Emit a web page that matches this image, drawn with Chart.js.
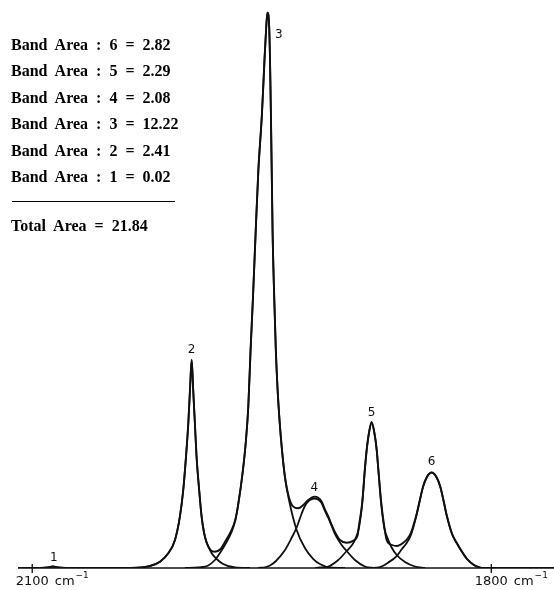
<!DOCTYPE html>
<html>
<head>
<meta charset="utf-8">
<title>Band fit</title>
<script src="https://cdn.jsdelivr.net/npm/chart.js@4.4.0/dist/chart.umd.min.js"></script>
<style>
    body { margin: 0; background: #fff; }
    #wrap { position: relative; width: 554px; height: 590px; }
    #bandChart { position: absolute; left: 0; top: 0; }
    .note {
        position: absolute;
        left: 11px;
        font: bold 16px "Liberation Serif", "Times New Roman", serif;
        line-height: 26.4px;
        word-spacing: 4px;
        color: #000;
        white-space: pre;
    }
    #areas { top: 32px; }
    #total { top: 213px; }
    #rule { position: absolute; left: 12px; top: 201px; width: 163px; height: 0; border-top: 1.6px solid #000; }
</style>
</head>
<body>
<div id="wrap">
    <canvas id="bandChart" width="554" height="590"></canvas>
    <div id="areas" class="note"></div>
    <div id="rule"></div>
    <div id="total" class="note"></div>
</div>
<script>
const bandNames = ["1", "2", "3", "4", "5", "6"];
const bandAreas = [0.02, 2.41, 12.22, 2.08, 2.29, 2.82];
const totalArea = 21.84;
const axisTicks = [2100, 1800];
const axisUnit = "cm";

// wavenumber (cm-1) / relative absorbance
const band1Wn = [2095.0, 2089.7, 2086.5, 2083.2, 2078.0];
const band1Abs = [0, 0.09, 0.27, 0.09, 0];

const band2Wn = [2036.1, 2028.5, 2023.1, 2016.5, 2011.1, 2006.7, 2003.5, 2001.3, 1999.5, 1998.0, 1996.9, 1995.8,
    1994.8, 1993.7, 1992.6, 1990.9, 1989.3, 1987.8, 1986.0, 1982.7, 1979.5, 1975.2, 1967.5, 1957.7];
const band2Abs = [0, 0.09, 0.36, 1.14, 2.65, 5.05, 9.24, 14.05, 20.05, 26.07, 32.07, 37.48,
    32.07, 26.07, 20.05, 14.05, 9.24, 6.49, 4.56, 2.65, 1.62, 0.72, 0.09, 0];

const band3Wn = [2000.2, 1991.7, 1988.4, 1985.0, 1980.6, 1978.4, 1974.1, 1969.7, 1967.2, 1965.4, 1962.5, 1960.3,
    1958.8, 1957.3, 1955.8, 1954.0, 1952.2, 1949.9, 1948.2, 1947.1, 1946.3, 1945.2, 1944.6, 1944.0, 1942.9,
    1941.8, 1940.8, 1939.7, 1938.4, 1936.8, 1934.8, 1932.2, 1927.2, 1921.8, 1916.3, 1912.0, 1905.4, 1895.6];
const band3Abs = [0, 0.09, 0.18, 0.45, 1.44, 2.25, 4.14, 6.49, 8.65, 11.35, 17.12, 23.06,
    29.01, 39.28, 48.29, 60.36, 71.71, 81.62, 91.53, 97.30, 100, 97.84, 91.53, 81.62, 60.36,
    48.29, 39.28, 32.43, 26.67, 21.26, 16.22, 12.25, 6.85, 3.60, 1.62, 0.72, 0.09, 0];

const band4Wn = [1952.5, 1947.3, 1944.6, 1940.7, 1934.8, 1930.5, 1927.2, 1923.9, 1921.8, 1919.6, 1917.8, 1915.7,
    1913.3, 1910.9, 1908.7, 1906.5, 1904.3, 1902.2, 1897.8, 1894.5, 1889.1, 1882.6, 1876.0];
const band4Abs = [0, 0.18, 0.45, 1.26, 3.24, 5.41, 7.30, 9.82, 11.17, 11.98, 12.34, 12.52,
    12.34, 11.71, 10.27, 9.01, 7.57, 6.13, 4.14, 3.06, 1.44, 0.27, 0];

const band5Wn = [1915.2, 1912.0, 1906.5, 1900.0, 1894.5, 1891.0, 1889.1, 1886.5, 1884.3, 1882.6, 1881.4, 1879.9,
    1878.2, 1876.4, 1874.9, 1873.8, 1872.0, 1869.9, 1867.3, 1865.3, 1861.8, 1856.4, 1849.9, 1843.3];
const band5Abs = [0, 0.09, 0.27, 1.44, 3.06, 4.14, 5.05, 7.21, 11.71, 17.66, 21.26, 24.32,
    26.13, 24.32, 21.26, 17.66, 11.71, 7.21, 5.05, 3.78, 2.34, 1.08, 0.27, 0];

const band6Wn = [1879.3, 1872.7, 1867.3, 1861.8, 1858.4, 1855.3, 1852.5, 1848.8, 1846.6, 1844.6, 1842.0, 1839.0,
    1835.9, 1833.3, 1831.3, 1829.2, 1825.4, 1822.6, 1819.5, 1815.9, 1811.3, 1806.1];
const band6Abs = [0, 0.18, 0.99, 2.16, 3.42, 4.50, 5.95, 9.55, 12.25, 14.59, 16.40, 17.17,
    16.40, 14.59, 12.25, 9.55, 5.95, 4.50, 3.06, 1.62, 0.54, 0];

// measured envelope (sum trace)
const totalWn = [2109.3, 2095.0, 2089.7, 2086.5, 2083.2, 2078.0, 2042.7,
    2036.1, 2028.5, 2023.1, 2016.5, 2011.1, 2006.7, 2003.5, 2001.3, 1999.5, 1998.0, 1996.9, 1995.8,
    1994.8, 1993.7, 1992.6, 1990.9, 1989.3, 1987.8, 1986.0,
    1983.4, 1980.6, 1976.9, 1974.1, 1969.7, 1967.2,
    1965.4, 1962.5, 1960.3, 1958.8, 1957.3, 1955.8, 1954.0, 1952.2, 1949.9, 1948.2, 1947.1, 1946.3,
    1945.2, 1944.6, 1944.0, 1942.9, 1941.8, 1940.8, 1939.7, 1938.4, 1936.8, 1934.8,
    1932.2, 1929.4, 1926.1, 1922.9, 1919.6, 1915.7, 1913.3, 1910.9, 1908.7, 1906.5, 1904.3, 1902.2,
    1898.9, 1894.5, 1890.2, 1887.3, 1886.5, 1884.3,
    1882.6, 1881.4, 1879.9, 1878.2, 1876.4, 1874.9, 1873.8, 1872.0, 1869.9, 1868.4, 1864.9, 1861.6,
    1857.7, 1854.4, 1852.5, 1848.8,
    1846.6, 1844.6, 1842.0, 1839.0, 1835.9, 1833.3, 1831.3, 1829.2, 1825.4, 1822.6, 1819.5, 1815.9,
    1811.3, 1806.1, 1759.0];
const totalAbs = [0, 0, 0.09, 0.27, 0.09, 0, 0,
    0, 0.09, 0.36, 1.14, 2.65, 5.05, 9.24, 14.05, 20.05, 26.07, 32.07, 37.48,
    32.07, 26.07, 20.05, 14.05, 9.24, 6.49, 4.56,
    3.24, 2.94, 3.42, 4.68, 6.85, 8.80,
    11.45, 17.20, 23.10, 29.05, 39.30, 48.30, 60.36, 71.71, 81.62, 91.53, 97.30, 100,
    97.84, 91.53, 81.62, 60.36, 48.29, 39.28, 32.45, 26.70, 21.35, 16.40,
    12.70, 11.05, 10.76, 11.35, 12.25, 12.85, 12.70, 11.98, 10.54, 9.28, 7.75, 6.49,
    5.05, 4.56, 4.92, 5.95, 7.57, 11.89,
    17.84, 21.35, 24.40, 26.30, 24.40, 21.35, 17.75, 12.00, 7.39, 5.05, 4.14, 3.96,
    4.50, 5.41, 6.31, 9.73,
    12.35, 14.65, 16.45, 17.20, 16.45, 14.65, 12.30, 9.60, 6.00, 4.55, 3.10, 1.65,
    0.55, 0, 0];

const bandWn = [band1Wn, band2Wn, band3Wn, band4Wn, band5Wn, band6Wn];
const bandAbs = [band1Abs, band2Abs, band3Abs, band4Abs, band5Abs, band6Abs];

// text block
let rows = [];
for (let i = bandNames.length - 1; i >= 0; i--) {
    rows.push("Band Area : " + bandNames[i] + " = " + bandAreas[i].toFixed(2));
}
document.getElementById("areas").textContent = rows.join("\n");
document.getElementById("total").textContent = "Total Area = " + totalArea.toFixed(2);

const ink = "#101010";

function toPoints(xs, ys) {
    return xs.map((x, i) => ({ x: x, y: ys[i] }));
}

const datasets = bandNames.map((name, i) => ({
    label: "Band " + name,
    data: toPoints(bandWn[i], bandAbs[i]),
    borderColor: ink,
    borderWidth: 1.8,
    pointRadius: 0,
    cubicInterpolationMode: "monotone",
}));
datasets.push({
    label: "Total",
    data: toPoints(totalWn, totalAbs),
    borderColor: ink,
    borderWidth: 1.9,
    pointRadius: 0,
    cubicInterpolationMode: "monotone",
});

// peak numbers + the wavenumber axis
const spectrumDecor = {
    id: "spectrumDecor",
    afterDatasetsDraw(chart) {
        const ctx = chart.ctx;
        const xs = chart.scales.x;
        const ys = chart.scales.y;
        const y0 = ys.getPixelForValue(0);
        ctx.save();

        ctx.strokeStyle = ink;
        ctx.lineWidth = 1.6;
        ctx.beginPath();
        ctx.moveTo(chart.chartArea.left, y0);
        ctx.lineTo(chart.chartArea.right, y0);
        ctx.stroke();

        ctx.fillStyle = ink;
        ctx.font = "12px 'DejaVu Sans', sans-serif";
        ctx.textAlign = "center";
        ctx.textBaseline = "middle";
        bandNames.forEach((name, i) => {
            const vals = bandAbs[i];
            const k = vals.indexOf(Math.max(...vals));
            let px = xs.getPixelForValue(bandWn[i][k]);
            let py = ys.getPixelForValue(vals[k]) - 10.5;
            if (name == "3") {
                px += 11.5;
                py += 32.5;
            }
            if (name == "1") {
                px += 1;
                py += 2;
            }
            ctx.fillText(name, px, py);
        });

        axisTicks.forEach((t) => {
            const px = xs.getPixelForValue(t);
            ctx.lineWidth = 1.3;
            ctx.beginPath();
            ctx.moveTo(px, y0 - 4);
            ctx.lineTo(px, y0 + 5);
            ctx.stroke();

            ctx.textBaseline = "alphabetic";
            ctx.font = "13px 'DejaVu Sans', sans-serif";
            ctx.textAlign = "center";
            const num = String(t);
            ctx.fillText(num, px, y0 + 17);
            let cx = px + ctx.measureText(num).width / 2 + 6;
            ctx.textAlign = "left";
            ctx.fillText(axisUnit, cx, y0 + 17);
            cx += ctx.measureText(axisUnit).width + 1;
            ctx.font = "9px 'DejaVu Sans', sans-serif";
            ctx.fillText("\u2212" + "1", cx, y0 + 10);
        });
        ctx.restore();
    },
};

const config = {
    type: "line",
    data: { datasets: datasets },
    options: {
        responsive: false,
        animation: false,
        layout: {
            padding: { left: 18, right: 0, top: 0, bottom: 22 },
        },
        plugins: {
            legend: { display: false },
            tooltip: { enabled: false },
        },
        scales: {
            x: { type: "linear", reverse: true, min: 1759.0, max: 2109.3, display: false },
            y: { type: "linear", min: 0, max: 102.3, display: false },
        },
    },
    plugins: [spectrumDecor],
};

const chart = new Chart(document.getElementById("bandChart").getContext("2d"), config);
</script>
</body>
</html>
